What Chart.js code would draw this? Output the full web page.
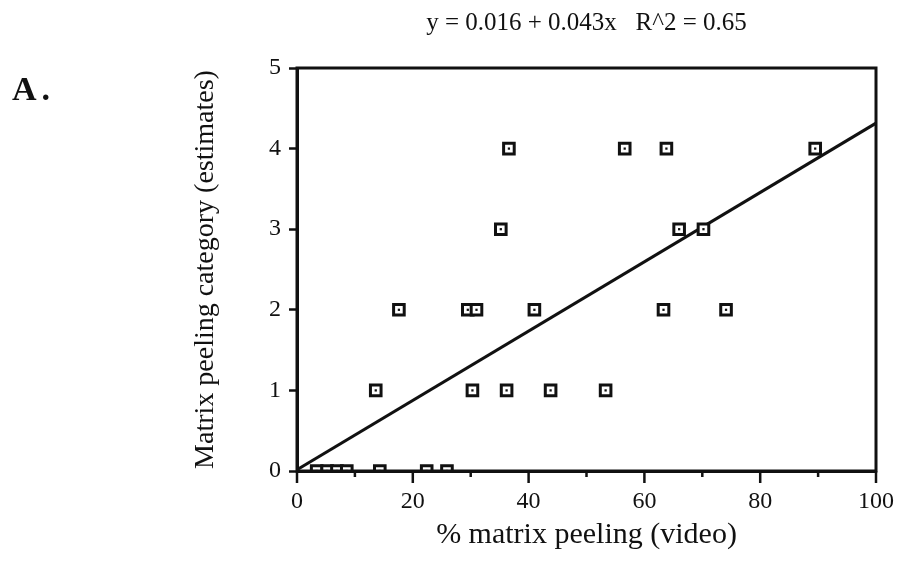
<!DOCTYPE html>
<html>
<head>
<meta charset="utf-8">
<script src="https://cdn.jsdelivr.net/npm/chart.js@4.4.1/dist/chart.umd.min.js"></script>
<style>
  html, body { margin: 0; padding: 0; background: #fff; }
  #wrap { position: relative; width: 900px; height: 565px; }
  #panel {
    position: absolute; left: 12px; top: 70px; letter-spacing: 5px;
    font: bold 34px "Liberation Serif", "Times New Roman", serif; color: #111;
  }
</style>
</head>
<body>
<div id="wrap">
  <canvas id="peelChart" width="900" height="565"></canvas>
  <div id="panel">A.</div>
</div>
<script>
// % matrix peeling measured on video vs. estimated peeling category
const videoPeeling = [3.4, 5.2, 6.9, 8.6, 14.3, 22.4, 25.9,
  13.6, 30.3, 36.2, 43.8, 53.3,
  17.6, 29.5, 31.0, 41.0, 63.3, 74.1,
  35.2, 66.0, 70.2,
  36.6, 56.6, 63.8, 89.5];
const peelCategory = [0, 0, 0, 0, 0, 0, 0,
  1, 1, 1, 1, 1,
  2, 2, 2, 2, 2, 2,
  3, 3, 3,
  4, 4, 4, 4];

// regression y = a + b x
const fitIntercept = 0.016;
const fitSlope = 0.043;
const fitRange = [0, 100];

const points = videoPeeling.map((v, i) => ({ x: v, y: peelCategory[i] }));
const fitLine = fitRange.map((x) => ({ x: x, y: fitIntercept + fitSlope * x }));

const ink = "#111";
Chart.defaults.font.family = '"Liberation Serif", "Times New Roman", serif';
Chart.defaults.color = ink;

// box around the plot + long/short ticks on the x axis
const framePlugin = {
  id: "frame",
  afterDraw(chart) {
    const { ctx, chartArea: a } = chart;
    const x = chart.scales.x;
    ctx.save();
    ctx.strokeStyle = ink;
    ctx.lineWidth = 3;
    ctx.strokeRect(a.left, a.top, a.right - a.left, a.bottom - a.top);
    ctx.lineWidth = 2.5;
    x.ticks.forEach((t) => {
      const px = x.getPixelForValue(t.value);
      const len = t.value % 20 === 0 ? 12 : 6;
      ctx.beginPath();
      ctx.moveTo(px, a.bottom);
      ctx.lineTo(px, a.bottom + len);
      ctx.stroke();
    });
    ctx.restore();
  },
};

const ctx = document.getElementById("peelChart").getContext("2d");
new Chart(ctx, {
  type: "scatter",
  data: {
    datasets: [
      {
        label: "fit",
        type: "line",
        data: fitLine,
        borderColor: ink,
        borderWidth: 3,
        pointRadius: 0,
        order: 3,
      },
      {
        label: "estimates",
        data: points,
        pointStyle: "rect",
        pointRadius: 7.5,
        pointBorderWidth: 3,
        pointBackgroundColor: "#fff",
        pointBorderColor: ink,
        order: 2,
      },
      {
        label: "centres",
        data: points,
        pointStyle: "rect",
        pointRadius: 1.6,
        pointBorderWidth: 0,
        pointBackgroundColor: ink,
        order: 1,
      },
    ],
  },
  options: {
    responsive: false,
    animation: false,
    layout: { padding: { left: 187, top: 4, right: 24, bottom: 8 } },
    plugins: {
      legend: { display: false },
      tooltip: { enabled: false },
      title: {
        display: true,
        fullSize: false,
        text: "y = 0.016 + 0.043x   R^2 = 0.65",
        color: ink,
        font: { size: 25, weight: "normal" },
        padding: { top: 4, bottom: 30 },
      },
    },
    scales: {
      x: {
        type: "linear",
        min: 0,
        max: 100,
        afterFit: (s) => { s.height = 86; },
        ticks: {
          stepSize: 10,
          autoSkip: false,
          maxRotation: 0,
          padding: 4,
          color: ink,
          font: { size: 24 },
          callback: (v) => (v % 20 === 0 ? v : ""),
        },
        grid: { drawOnChartArea: false, tickLength: 12, tickColor: "rgba(0,0,0,0)" },
        border: { color: ink, width: 3 },
        title: {
          display: true,
          text: "% matrix peeling (video)",
          color: ink,
          font: { size: 30 },
          padding: { top: 0, bottom: 4 },
        },
      },
      y: {
        min: 0,
        max: 5,
        afterFit: (s) => { s.width = 110; },
        ticks: { stepSize: 1, padding: 8, color: ink, font: { size: 24 } },
        grid: { drawOnChartArea: false, tickLength: 8, tickColor: ink, tickWidth: 2.5 },
        border: { color: ink, width: 3 },
        title: {
          display: true,
          text: "Matrix peeling category (estimates)",
          color: ink,
          font: { size: 28 },
          padding: { top: 2, bottom: 2 },
        },
      },
    },
  },
  plugins: [framePlugin],
});
</script>
</body>
</html>
